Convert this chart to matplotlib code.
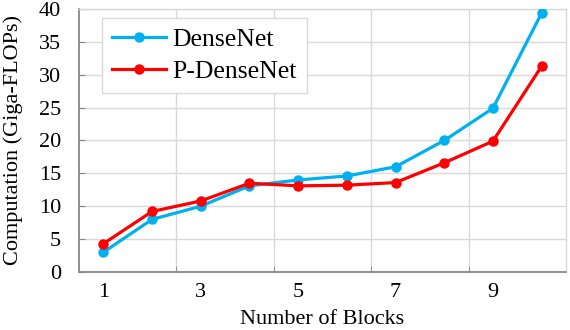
import matplotlib
matplotlib.use('Agg')
import matplotlib.pyplot as plt

plt.rcParams['font.family'] = ['Liberation Serif', 'DejaVu Serif']

blocks = [1, 2, 3, 4, 5, 6, 7, 8, 9, 10]
densenet = [3.0, 8.0, 10.0, 13.1, 14.0, 14.6, 16.0, 20.0, 24.9, 39.4]
p_densenet = [4.3, 9.2, 10.8, 13.5, 13.1, 13.2, 13.6, 16.6, 19.9, 31.3]
xtick_labels = ['1', '3', '5', '7', '9']

fs = 16

fig = plt.figure(figsize=(5.7, 3.3), dpi=100)
ax = fig.add_axes([0.1386, 0.1758, 0.8544, 0.797])

ax.plot(blocks, densenet, color='#00B0F0', lw=2.3, marker='o', ms=6.5, label='DenseNet', zorder=3)
ax.plot(blocks, p_densenet, color='#FF0000', lw=2.3, marker='o', ms=6.5, label='P-DenseNet', zorder=4)

ax.set_xlim(0.5, 10.5)
ax.set_ylim(0, 40)
ax.set_yticks(range(0, 41, 5))
# category style axis: labels at centres, ticks/grid on boundaries
ax.set_xticks([1, 3, 5, 7, 9])
ax.set_xticklabels(xtick_labels)
ax.set_xticks([2.5, 4.5, 6.5, 8.5], minor=True)
ax.tick_params(axis='x', which='major', length=0, labelsize=fs, pad=8)
ax.tick_params(axis='x', which='minor', direction='in', length=4, color='#888888')
ax.tick_params(axis='y', direction='in', length=4, color='#888888', labelsize=fs, pad=13)
ax.grid(True, axis='y', color='#d9d9d9', lw=1)
ax.grid(True, axis='x', which='minor', color='#d9d9d9', lw=1)
ax.set_axisbelow(True)

for s in ['left', 'bottom']:
    ax.spines[s].set_color('#888888')
    ax.spines[s].set_linewidth(1.3)
for s in ['top', 'right']:
    ax.spines[s].set_color('#d9d9d9')
    ax.spines[s].set_linewidth(1)

ax.set_xlabel('Number of Blocks', fontsize=fs, labelpad=6)
ax.set_ylabel('Computation (Giga-FLOPs)', fontsize=fs, labelpad=11)

leg = ax.legend(loc='upper left', bbox_to_anchor=(0.047, 0.965), borderaxespad=0,
                fontsize=18.5, fancybox=False, edgecolor='#d9d9d9', framealpha=1,
                handlelength=2.1, handletextpad=0.25, borderpad=0.4, labelspacing=0.32)
leg.get_frame().set_linewidth(1)

fig.savefig('out.png', dpi=100)
